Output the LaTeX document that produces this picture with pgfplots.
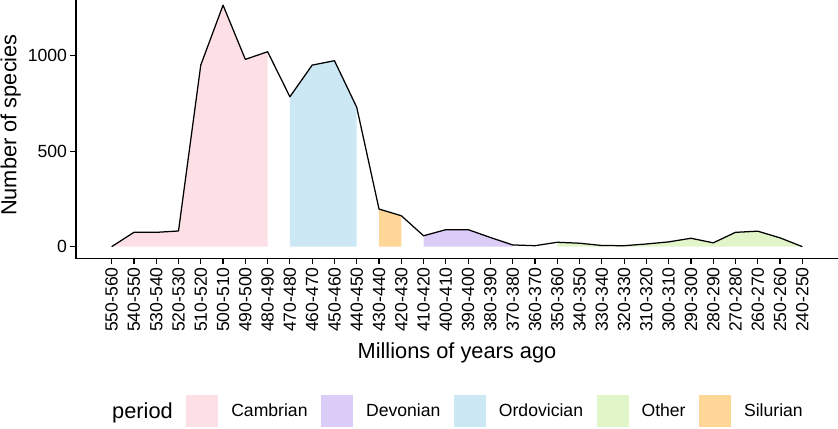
\documentclass[border=0pt]{standalone}
\usepackage{fontspec}
\setmainfont{Liberation Sans}
\usepackage{pgfplots}
\pgfplotsset{compat=1.18}
\usepackage{pgfplotstable}

\definecolor{cambrian}{HTML}{FDE0E6}
\definecolor{devonian}{HTML}{DCCDF8}
\definecolor{ordovician}{HTML}{CDE8F5}
\definecolor{other}{HTML}{E2F5C8}
\definecolor{silurian}{HTML}{FDD698}

\pgfplotsset{keybox/.style={legend image code/.code={\fill[##1] (0bp,-16bp) rectangle (32bp,16bp);}}}

\pgfplotstableread{
x y
0 0
1 75
2 75
3 82
4 951
5 1265
6 981
7 1021
8 785
9 951
10 974
11 730
12 197
13 162
14 57
15 89
16 89
17 48
18 9
19 5
20 23
21 18
22 6
23 5
24 14
25 25
26 44
27 20
28 75
29 81
30 46
31 0
}\species

\newcommand\tickfont{\fontsize{17.6bp}{20bp}\selectfont}
\newcommand\titlefont{\fontsize{21.8bp}{25bp}\selectfont}

\begin{document}
\begin{tikzpicture}
\useasboundingbox (0,0) rectangle (838bp,429bp);
\begin{axis}[
  at={(76bp,170.7bp)}, anchor=south west,
  scale only axis, width=762bp, height=258.3bp,
  xmin=-1.6, xmax=32.6, ymin=-61, ymax=1292,
  axis lines*=left,
  axis line style={line width=1.5bp, line cap=rect},
  tick align=outside,
  major tick length=5.5bp,
  tick style={line width=1.2bp, black},
  xtick={0,...,31},
  xticklabels={550-560,540-550,530-540,520-530,510-520,500-510,490-500,480-490,470-480,460-470,450-460,440-450,430-440,420-430,410-420,400-410,390-400,380-390,370-380,360-370,350-360,340-350,330-340,320-330,310-320,300-310,290-300,280-290,270-280,260-270,250-260,240-250},
  x tick label style={rotate=90, anchor=east, font=\tickfont},
  ytick={0,500,1000},
  yticklabels={0,500,1000},
  y tick label style={font=\tickfont},
  xlabel={Millions of years ago},
  ylabel={Number of species},
  label style={font=\titlefont},
  xlabel style={at={(axis description cs:0.5,-0.365)}, anchor=center},
  ylabel style={at={(ticklabel cs:0.516)}},
  legend columns=6,
  legend cell align=left,
  legend style={at={(axis description cs:0.4921,-0.591)}, anchor=center,
    draw=none, fill=none, inner sep=0pt, font=\tickfont,
    nodes={inner sep=0pt},
    /tikz/every odd column/.append style={column sep=13bp},
    /tikz/every even column/.append style={column sep=13.5bp}},
]
\addlegendimage{empty legend}
\addlegendentry{\titlefont period}

\addplot[fill=cambrian, draw=none, keybox]
  coordinates {(0,0) (1,75) (2,75) (3,82) (4,951) (5,1265) (6,981) (7,1021) (7,0)};
\addlegendentry{Cambrian}

\addplot[fill=devonian, draw=none, keybox]
  coordinates {(14,0) (14,57) (15,89) (16,89) (17,48) (18,9) (18,0)};
\addlegendentry{Devonian}

\addplot[fill=ordovician, draw=none, keybox]
  coordinates {(8,0) (8,785) (9,951) (10,974) (11,730) (11,0)};
\addlegendentry{Ordovician}

\addplot[fill=other, draw=none, keybox]
  coordinates {(20,0) (20,23) (21,18) (22,6) (23,5) (24,14) (25,25) (26,44) (27,20) (28,75) (29,81) (30,46) (31,0)};
\addlegendentry{Other}

\addplot[fill=silurian, draw=none, keybox]
  coordinates {(12,0) (12,197) (13,162) (13,0)};
\addlegendentry{Silurian}

\addplot[black, line width=1.25bp, line join=round, forget plot] table[x=x, y=y] {\species};
\end{axis}
\end{tikzpicture}
\end{document}
